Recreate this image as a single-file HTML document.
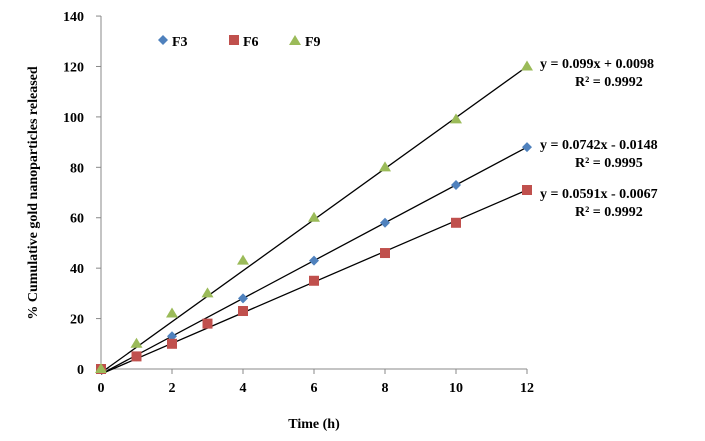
<!DOCTYPE html>
<html><head><meta charset="utf-8"><style>
body{margin:0;background:#fff}
text{font-family:"Liberation Serif",serif;font-weight:bold;fill:#000}
</style></head><body>
<svg width="705" height="436">
<g id="axes"></g><g id="marks"></g>
<text x="314" y="428" font-size="14" text-anchor="middle">Time (h)</text>
<text transform="translate(37,193) rotate(-90)" font-size="14" text-anchor="middle">% Cumulative gold nanoparticles released</text>
<g>
<path d="M163,35 l5,5 l-5,5 l-5,-5z" fill="#4F81BD"/><text x="172" y="46" font-size="14">F3</text>
<rect x="229" y="35" width="10" height="10" fill="#C0504D"/><text x="243" y="46" font-size="14">F6</text>
<path d="M295,35 l6,10 h-12z" fill="#9BBB59"/><text x="305" y="46" font-size="14">F9</text>
</g>
<g font-size="14">
<text x="540" y="68">y = 0.099x + 0.0098</text><text x="575" y="86">R² = 0.9992</text>
<text x="540" y="149">y = 0.0742x - 0.0148</text><text x="575" y="167">R² = 0.9995</text>
<text x="540" y="198">y = 0.0591x - 0.0067</text><text x="575" y="216">R² = 0.9992</text>
</g>
</svg>
<script>
const xs=[0,1,2,3,4,6,8,10,12];
const f3=[0,5,13,18,28,43,58,73,88];
const f6=[0,5,10,18,23,35,46,58,71];
const f9=[0,10,22,30,43,60,80,99,120];
const trendStart=[-2,-2,-1.5];
const trendEnd=[88,71,120];
const xTicks=[0,2,4,6,8,10,12];
const yTicks=[0,20,40,60,80,100,120,140];
const X=v=>101+v*35.5, Y=v=>369-v*2.521;
const NS="http://www.w3.org/2000/svg";
const ax=document.getElementById('axes'), mk=document.getElementById('marks');
function el(t,a,p){const e=document.createElementNS(NS,t);for(const k in a)e.setAttribute(k,a[k]);p.appendChild(e);return e;}
let a=el('line',{x1:101,y1:Y(0),x2:527,y2:Y(0),stroke:'#888'},ax);


a=el('line',{x1:101,y1:Y(0),x2:101,y2:Y(140),stroke:'#888'},ax);


xTicks.forEach(v=>{el('line',{x1:X(v),x2:X(v),y1:369,y2:374,stroke:'#888'},ax);
const t=el('text',{x:X(v),y:392,'font-size':14,'text-anchor':'middle'},ax);t.textContent=v;

});
yTicks.forEach(v=>{el('line',{x1:96,x2:101,y1:Y(v),y2:Y(v),stroke:'#888'},ax);
const t=el('text',{x:84,y:Y(v)+5,'font-size':14,'text-anchor':'end'},ax);t.textContent=v;

});
[0,1,2].forEach(i=>{const l=el('line',{x1:X(0),y1:Y(trendStart[i]),x2:X(12),y2:Y(trendEnd[i]),stroke:'#000','stroke-width':1.3},mk);

});
xs.forEach((x,i)=>{const cx=X(x);
let p=el('path',{d:`M${cx},${Y(f3[i])-5}l5,5l-5,5l-5,-5z`,fill:'#4F81BD'},mk);


p=el('rect',{x:cx-5,y:Y(f6[i])-5,width:10,height:10,fill:'#C0504D'},mk);


p=el('path',{d:`M${cx},${Y(f9[i])-6}l6,10h-12z`,fill:'#9BBB59'},mk);

});
</script>
</body></html>
